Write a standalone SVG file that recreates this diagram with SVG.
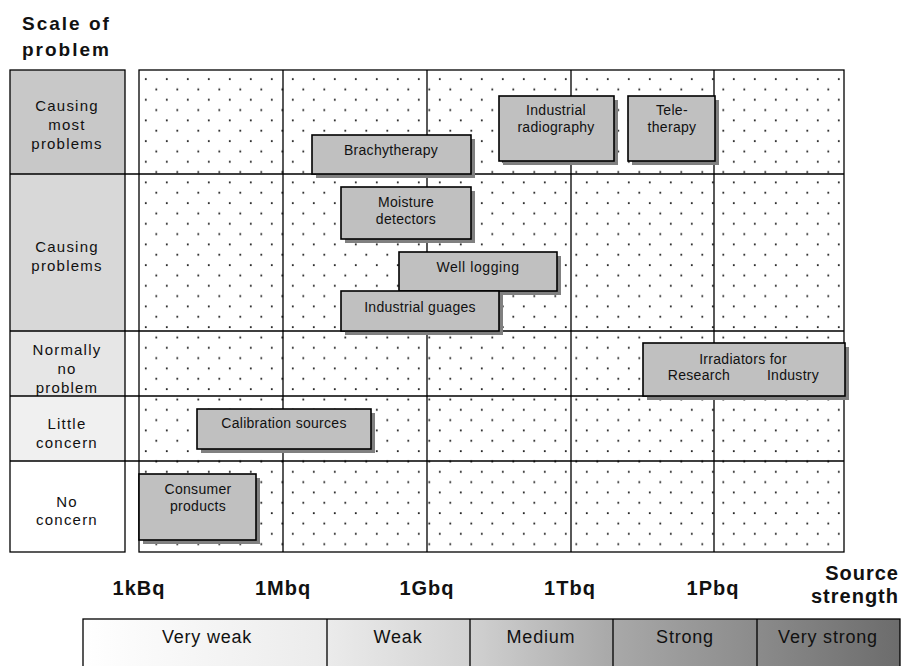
<svg xmlns="http://www.w3.org/2000/svg" width="906" height="666" viewBox="0 0 906 666">
<defs>
<pattern id="dots" patternUnits="userSpaceOnUse" x="140" y="74" width="21" height="20.67">
<rect x="4.9" y="4.2" width="1.8" height="1.8" fill="#222"/>
<rect x="15.4" y="14.5" width="1.8" height="1.8" fill="#222"/>
</pattern>
<linearGradient id="bar" gradientUnits="userSpaceOnUse" x1="83" y1="0" x2="900" y2="0">
<stop offset="0" stop-color="#ffffff"/>
<stop offset="0.3" stop-color="#ebebeb"/>
<stop offset="0.47" stop-color="#d2d2d2"/>
<stop offset="0.64" stop-color="#aaaaaa"/>
<stop offset="0.82" stop-color="#8c8c8c"/>
<stop offset="1" stop-color="#6c6c6c"/>
</linearGradient>
<style>
.hdr{font-family:"Liberation Sans",Arial,sans-serif;font-weight:bold;font-size:19px;fill:#111;letter-spacing:2px}
.ax{font-family:"Liberation Sans",Arial,sans-serif;font-weight:bold;font-size:20px;fill:#111;text-anchor:middle;letter-spacing:1px}
.lbl{font-family:"Liberation Sans",Arial,sans-serif;font-size:15px;fill:#111;text-anchor:middle;letter-spacing:1.2px}
.bt{font-family:"Liberation Sans",Arial,sans-serif;font-size:14px;fill:#111;text-anchor:middle;letter-spacing:0.3px}
.bar{font-family:"Liberation Sans",Arial,sans-serif;font-size:18px;fill:#111;text-anchor:middle;letter-spacing:0.8px}
.box{fill:#c0c0c0;stroke:#000;stroke-width:1.6}
.sh{fill:#808080}
.ln{stroke:#000;stroke-width:1.3;fill:none}
</style>
</defs>
<rect width="906" height="666" fill="#fff"/>

<g id="header">
<text class="hdr" x="22" y="30">Scale of</text>
<text class="hdr" x="22" y="56">problem</text>
</g>

<g id="scale-column">
<rect x="10" y="70" width="115" height="104" fill="#c8c8c8"/>
<rect x="10" y="174" width="115" height="157" fill="#d8d8d8"/>
<rect x="10" y="331" width="115" height="65" fill="#e6e6e6"/>
<rect x="10" y="396" width="115" height="65" fill="#f0f0f0"/>
<rect x="10" y="461" width="115" height="91" fill="#ffffff"/>
<rect class="ln" x="10" y="70" width="115" height="482"/>
<text class="lbl" x="67" y="111">Causing</text>
<text class="lbl" x="67" y="130">most</text>
<text class="lbl" x="67" y="149">problems</text>
<text class="lbl" x="67" y="252">Causing</text>
<text class="lbl" x="67" y="271">problems</text>
<text class="lbl" x="67" y="355">Normally</text>
<text class="lbl" x="67" y="374">no</text>
<text class="lbl" x="67" y="393">problem</text>
<text class="lbl" x="67" y="429">Little</text>
<text class="lbl" x="67" y="448">concern</text>
<text class="lbl" x="67" y="507">No</text>
<text class="lbl" x="67" y="525">concern</text>
</g>

<g id="grid">
<rect x="139" y="70" width="705" height="482" fill="url(#dots)"/>
<rect class="ln" x="139" y="70" width="705" height="482"/>
<path class="ln" d="M283 70V552M427 70V552M571 70V552M714 70V552"/>
<path class="ln" d="M10 174H844M10 331H844M10 396H844M10 461H844"/>
</g>

<g id="node-brachytherapy">
<rect class="sh" x="316" y="139" width="159" height="39"/>
<rect class="box" x="312" y="135" width="159" height="39"/>
<text class="bt" x="391" y="155">Brachytherapy</text>
</g>
<g id="node-industrial-radiography">
<rect class="sh" x="503" y="100" width="115" height="65"/>
<rect class="box" x="499" y="96" width="115" height="65"/>
<text class="bt" x="556" y="115">Industrial</text>
<text class="bt" x="556" y="132">radiography</text>
</g>
<g id="node-teletherapy">
<rect class="sh" x="632" y="100" width="87" height="65"/>
<rect class="box" x="628" y="96" width="87" height="65"/>
<text class="bt" x="672" y="115">Tele-</text>
<text class="bt" x="672" y="132">therapy</text>
</g>
<g id="node-moisture-detectors">
<rect class="sh" x="345" y="191" width="130" height="52"/>
<rect class="box" x="341" y="187" width="130" height="52"/>
<text class="bt" x="406" y="207">Moisture</text>
<text class="bt" x="406" y="224">detectors</text>
</g>
<g id="node-well-logging">
<rect class="sh" x="403" y="256" width="158" height="39"/>
<rect class="box" x="399" y="252" width="158" height="39"/>
<text class="bt" x="478" y="272" style="letter-spacing:0.6px">Well logging</text>
</g>
<g id="node-industrial-guages">
<rect class="sh" x="345" y="295" width="158" height="40"/>
<rect class="box" x="341" y="291" width="158" height="40"/>
<text class="bt" x="420" y="312">Industrial guages</text>
</g>
<g id="node-irradiators">
<rect class="sh" x="647" y="347" width="202" height="53"/>
<rect class="box" x="643" y="343" width="202" height="53"/>
<text class="bt" x="743" y="364">Irradiators for</text>
<text class="bt" y="380"><tspan x="699">Research</tspan><tspan x="793">Industry</tspan></text>
</g>
<g id="node-calibration-sources">
<rect class="sh" x="201" y="413" width="174" height="40"/>
<rect class="box" x="197" y="409" width="174" height="40"/>
<text class="bt" x="284" y="428">Calibration sources</text>
</g>
<g id="node-consumer-products">
<rect class="sh" x="143" y="478" width="117" height="66"/>
<rect class="box" x="139" y="474" width="117" height="66"/>
<text class="bt" x="198" y="494">Consumer</text>
<text class="bt" x="198" y="511">products</text>
</g>

<g id="connectors"></g>

<g id="axis-labels">
<text class="ax" x="139" y="595">1kBq</text>
<text class="ax" x="283" y="595">1Mbq</text>
<text class="ax" x="427" y="595">1Gbq</text>
<text class="ax" x="570" y="595">1Tbq</text>
<text class="ax" x="713" y="595">1Pbq</text>
<text class="ax" x="899" y="580" style="text-anchor:end">Source</text>
<text class="ax" x="899" y="603" style="text-anchor:end">strength</text>
</g>

<g id="strength-bar">
<rect x="83" y="619" width="817" height="52" fill="url(#bar)" stroke="#000" stroke-width="1.3"/>
<path class="ln" d="M327 619V666M470 619V666M613 619V666M757 619V666"/>
<text class="bar" x="207" y="643">Very weak</text>
<text class="bar" x="398" y="643">Weak</text>
<text class="bar" x="541" y="643">Medium</text>
<text class="bar" x="685" y="643">Strong</text>
<text class="bar" x="828" y="643">Very strong</text>
</g>
</svg>
